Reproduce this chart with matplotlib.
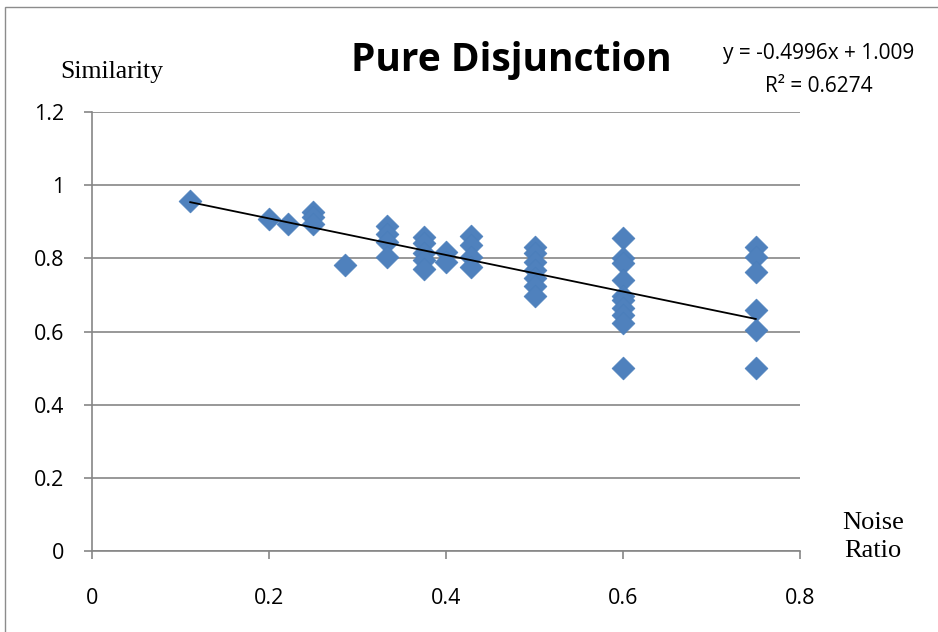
import matplotlib.pyplot as plt
from matplotlib.patches import Rectangle

# noise ratio groups and the similarity values
x_vals = [0.111, 0.2, 0.222,
          0.25, 0.25, 0.25,
          0.2857,
          0.333, 0.333, 0.333, 0.333,
          0.375, 0.375, 0.375, 0.375, 0.375,
          0.4, 0.4,
          0.4286, 0.4286, 0.4286, 0.4286,
          0.5, 0.5, 0.5, 0.5, 0.5, 0.5, 0.5,
          0.6, 0.6, 0.6, 0.6, 0.6, 0.6, 0.6, 0.6, 0.6, 0.6,
          0.75, 0.75, 0.75, 0.75, 0.75, 0.75]
y_vals = [0.956, 0.907, 0.893,
          0.926, 0.912, 0.895,
          0.781,
          0.888, 0.866, 0.846, 0.804,
          0.858, 0.842, 0.814, 0.795, 0.770,
          0.817, 0.790,
          0.862, 0.836, 0.803, 0.776,
          0.832, 0.814, 0.790, 0.768, 0.746, 0.725, 0.696,
          0.855, 0.800, 0.788, 0.741, 0.697, 0.685, 0.663, 0.645, 0.624, 0.500,
          0.830, 0.803, 0.763, 0.660, 0.604, 0.500]

# trendline coefficients from the chart
slope = -0.4996
intercept = 1.009
r2 = 0.6274

fig = plt.figure(figsize=(9.38, 6.32), dpi=100)
fig.patches.append(Rectangle((5 / 938, -0.1), 1.1, 1 - 7 / 632 + 0.1,
                             transform=fig.transFigure, fill=False,
                             edgecolor='#8c8c8c', linewidth=1))

ax = fig.add_axes([92 / 938, 81 / 632, 708 / 938, 439 / 632])
ax.set_xlim(0, 0.8)
ax.set_ylim(0, 1.2)
ax.set_xticks([0, 0.2, 0.4, 0.6, 0.8])
ax.set_xticklabels(['0', '0.2', '0.4', '0.6', '0.8'])
ax.set_yticks([0, 0.2, 0.4, 0.6, 0.8, 1.0, 1.2])
ax.set_yticklabels(['0', '0.2', '0.4', '0.6', '0.8', '1', '1.2'])

gray = '#868686'
ax.grid(axis='y', color=gray, linewidth=1.2)
ax.set_axisbelow(True)
for side in ['top', 'right']:
    ax.spines[side].set_visible(False)
for side in ['left', 'bottom']:
    ax.spines[side].set_color(gray)
    ax.spines[side].set_linewidth(1.2)
ax.tick_params(axis='both', colors=gray, direction='out', length=6, width=1.2,
               labelcolor='black', labelsize=15.5)
ax.tick_params(axis='x', pad=21)
ax.tick_params(axis='y', pad=14)
for lab in ax.get_xticklabels() + ax.get_yticklabels():
    lab.set_family('Open Sans')

ax.scatter(x_vals, y_vals, marker='D', s=135, color='#4f81bd',
           edgecolors='#4a7ebb', linewidths=0.5, zorder=3)

x0, x1 = min(x_vals), max(x_vals)
ax.plot([x0, x1], [slope * x0 + intercept, slope * x1 + intercept],
        color='black', linewidth=1.3, zorder=4)

fig.text(511 / 938, 1 - 60 / 632, 'Pure Disjunction', ha='center', va='center',
         fontsize=28, fontweight='bold', family='Open Sans')
fig.text(819 / 938, 1 - 54 / 632, 'y = -0.4996x + 1.009', ha='center', va='center',
         fontsize=15, family='Open Sans')
fig.text(819 / 938, 1 - 87 / 632, 'R² = %.4f' % r2, ha='center', va='center',
         fontsize=15, family='Open Sans')
fig.text(112 / 938, 1 - 72 / 632, 'Similarity', ha='center', va='center',
         fontsize=18.5, family='Liberation Serif')
fig.text(873 / 938, 1 - 537 / 632, 'Noise\nRatio', ha='center', va='center',
         fontsize=19, family='Liberation Serif', linespacing=1.4)

fig.savefig('out.png', dpi=100)
